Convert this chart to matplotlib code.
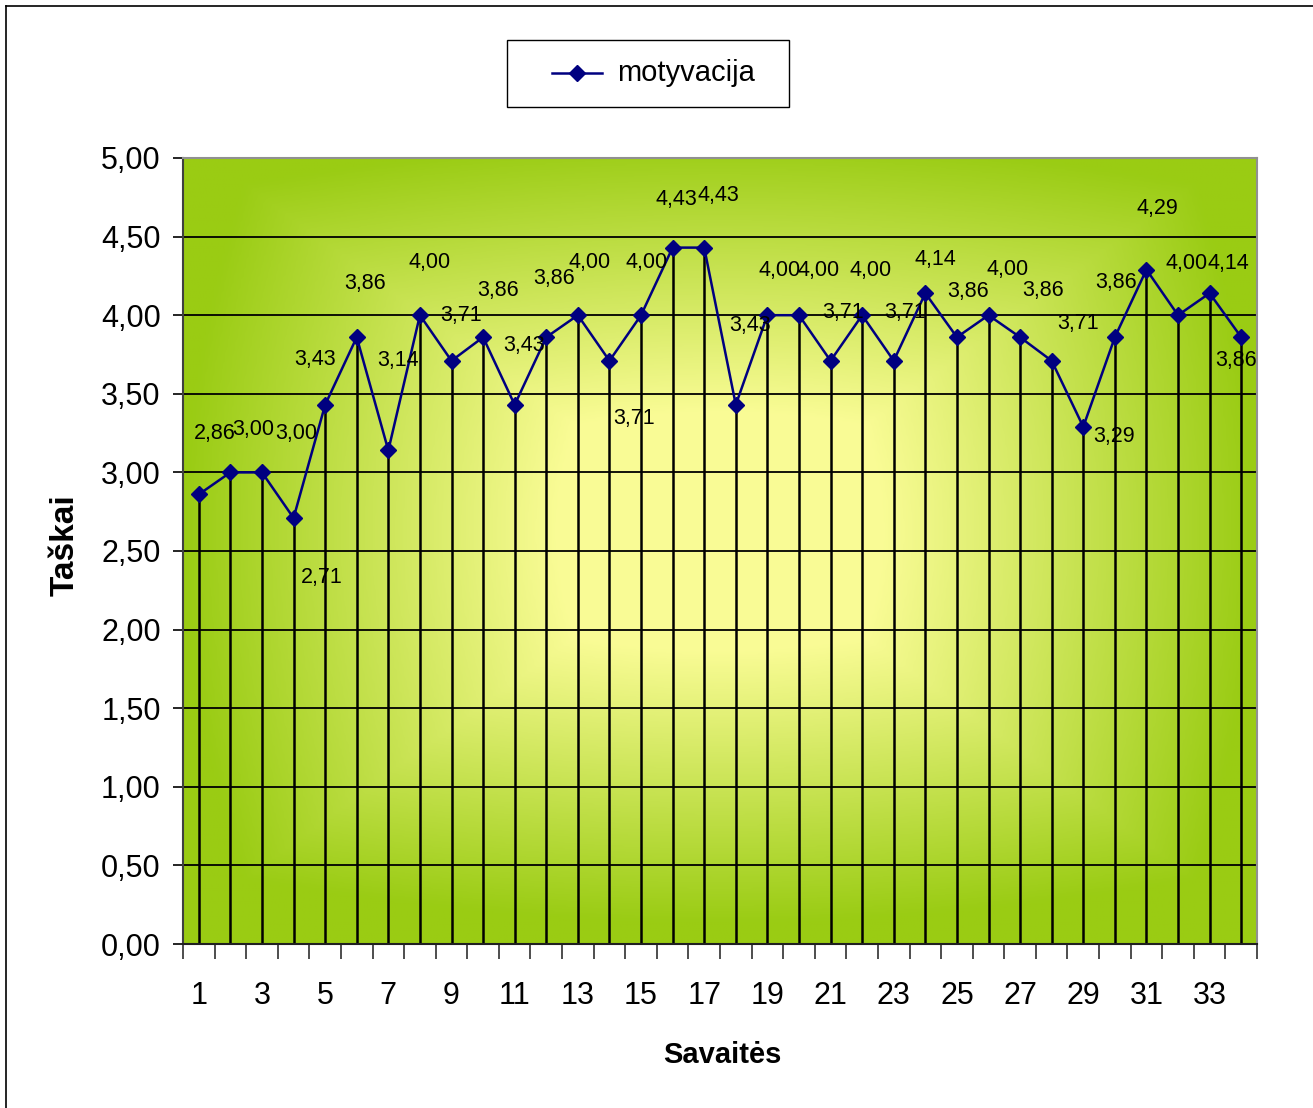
import numpy as np
import matplotlib
matplotlib.use("Agg")
import matplotlib.pyplot as plt
from matplotlib.colors import LinearSegmentedColormap
from matplotlib.lines import Line2D
from matplotlib.patches import Rectangle

plt.rcParams['font.family'] = ['Liberation Sans', 'DejaVu Sans']

# savaitės 1..34 and motivation score
weeks = list(range(1, 35))
motyvacija = [2.86, 3.00, 3.00, 2.71, 3.43, 3.86, 3.14, 4.00, 3.71, 3.86,
              3.43, 3.86, 4.00, 3.71, 4.00, 4.43, 4.43, 3.43, 4.00, 4.00,
              3.71, 4.00, 3.71, 4.14, 3.86, 4.00, 3.86, 3.71, 3.29, 3.86,
              4.29, 4.00, 4.14, 3.86]
y_ticks = [0.0, 0.5, 1.0, 1.5, 2.0, 2.5, 3.0, 3.5, 4.0, 4.5, 5.0]

# where each value label sits relative to its marker (pixels)
label_offsets = [(16, 61), (23, 43), (34, 39), (28, -60), (-10, 45), (8, 54),
                 (10, 90), (10, 53), (10, 45), (15, 47), (9, 59), (8, 59),
                 (12, 53), (25, -58), (6, 53), (4, 48), (14, 52), (14, 79),
                 (12, 45), (20, 45), (12, 48), (8, 45), (11, 48), (10, 34),
                 (11, 46), (19, 46), (23, 47), (26, 37), (31, -10), (1, 55),
                 (11, 61), (9, 52), (19, 30), (-5, -23)]


def fmt(v):
    return f"{v:.2f}".replace(".", ",")


W, H = 1313, 1108
fig = plt.figure(figsize=(W / 100, H / 100), dpi=100)
ax = fig.add_axes([183 / W, 1 - 944 / H, 1074 / W, 786 / H])

# background: light yellow centre fading to green at the edges
green = (0.604, 0.800, 0.078)
yellow = (0.980, 0.988, 0.588)
cmap = LinearSegmentedColormap.from_list("bg", [(0, yellow), (0.3, yellow), (1, green)])
gx, gy = np.meshgrid(np.linspace(-1, 1, 400), np.linspace(-1, 1, 300))
gy = gy + 0.05
dist = np.clip(np.maximum(np.abs(gx), np.abs(gy)) * 0.7 + np.hypot(gx, gy) * 0.3, 0, 1)
ax.imshow(dist, cmap=cmap, extent=(0, 1, 0, 1), transform=ax.transAxes,
          aspect="auto", zorder=0, interpolation="bilinear", vmin=0, vmax=1)

ax.set_xlim(0.5, 34.5)
ax.set_ylim(0, 5)

for t in y_ticks[1:]:
    ax.axhline(t, color="black", lw=1.3, zorder=1)

ax.vlines(weeks, 0, motyvacija, color="black", lw=1.8, zorder=2)
ax.plot(weeks, motyvacija, color="#000080", lw=1.8, marker="D",
        markersize=8.5, zorder=3)

for x, v, (dx, dy) in zip(weeks, motyvacija, label_offsets):
    ax.annotate(fmt(v), (x, v), xytext=(dx, dy), textcoords="offset pixels",
                ha="center", va="center", fontsize=15.5, zorder=4)

# axes and ticks
ax.set_yticks(y_ticks)
ax.set_yticklabels([fmt(t) for t in y_ticks], fontsize=22)
ax.tick_params(axis="y", length=7, width=1.2, direction="out", pad=9)

ax.set_xticks(np.arange(0.5, 35.5, 1))
ax.set_xticklabels([])
ax.tick_params(axis="x", which="major", length=11, width=1.2, direction="out", color="#303030")
ax.set_xticks(weeks[::2], minor=True)
ax.set_xticklabels([str(w) for w in weeks[::2]], minor=True, fontsize=22)
ax.tick_params(axis="x", which="minor", length=0, pad=27)

ax.spines["left"].set_color("#404040")
ax.spines["bottom"].set_color("#202020")
ax.spines["top"].set_color("#909090")
ax.spines["right"].set_color("#909090")
for s in ax.spines.values():
    s.set_linewidth(1.5)

fig.text(65 / W, 1 - 545 / H, "Taškai", rotation=90, ha="center",
         va="center", fontsize=24, fontweight="bold")
fig.text(722 / W, 1 - 1055 / H, "Savaitės", ha="center", va="center",
         fontsize=21, fontweight="bold")

# legend box, laid out by hand
fig.add_artist(Rectangle((507 / W, 1 - 107 / H), 282 / W, 67 / H,
                         transform=fig.transFigure, facecolor="white",
                         edgecolor="black", lw=1.0))
fig.add_artist(Line2D([552 / W, 602 / W], [1 - 73 / H, 1 - 73 / H],
                      color="#000080", lw=1.8, transform=fig.transFigure))
fig.add_artist(Line2D([577 / W], [1 - 73 / H], color="#000080", marker="D",
                      markersize=8.5, transform=fig.transFigure))
fig.text(617 / W, 1 - 73 / H, "motyvacija", ha="left", va="center", fontsize=21)

# chart border (left and top edges)
fig.add_artist(Line2D([6 / W, 6 / W], [0, 1 - 6 / H], color="black",
                      lw=1.2, transform=fig.transFigure))
fig.add_artist(Line2D([6 / W, 1], [1 - 6 / H, 1 - 6 / H], color="black",
                      lw=1.2, transform=fig.transFigure))

fig.savefig("out.png", dpi=100)
